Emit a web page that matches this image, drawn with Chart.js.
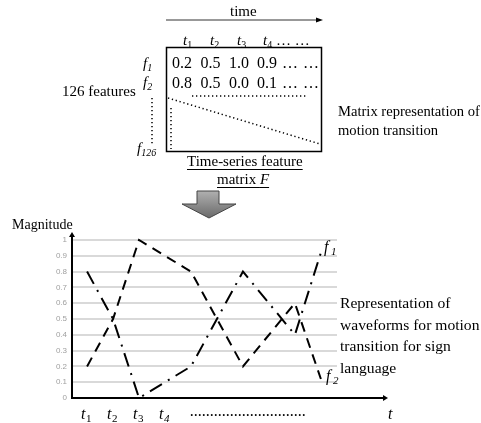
<!DOCTYPE html>
<html>
<head>
<meta charset="utf-8">
<script src="https://cdn.jsdelivr.net/npm/chart.js@4.4.0/dist/chart.umd.min.js"></script>
<style>
  html, body { margin: 0; padding: 0; background: #fff; }
  #page { position: relative; width: 481px; height: 423px; overflow: hidden;
          font-family: "Liberation Serif", "Times New Roman", serif; color: #000; }
  #page canvas, #page svg { position: absolute; left: 0; top: 0; }
  .t { position: absolute; white-space: nowrap; line-height: 18px; font-size: 15px; }
  .t i { font-style: italic; }
  .t sub { font-size: 10px; vertical-align: -3px; line-height: 0; }
  .u { text-decoration: underline; text-underline-offset: 3px; }
</style>
</head>
<body>
<div id="page">
  <canvas id="wave_canvas" width="481" height="423"></canvas>
  <svg width="481" height="423">
    <defs>
      <linearGradient id="arrowFill" x1="0" y1="0" x2="0" y2="1">
        <stop offset="0" stop-color="#b0b0b0"/>
        <stop offset="1" stop-color="#6a6a6a"/>
      </linearGradient>
    </defs>
    <!-- time arrow -->
    <line x1="166" y1="20" x2="318" y2="20" stroke="#333" stroke-width="1"/>
    <polygon points="316,17.5 323,20 316,22.5" fill="#000"/>
    <!-- matrix box -->
    <rect x="166.5" y="47.5" width="155" height="104" fill="none" stroke="#000" stroke-width="1.5"/>
    <g stroke="#000" stroke-width="1.5" stroke-dasharray="1.3 2.7" fill="none">
      <line x1="152" y1="98" x2="152" y2="146"/>
      <line x1="192" y1="96" x2="306" y2="96"/>
      <line x1="168" y1="98" x2="320" y2="144"/>
      <line x1="171" y1="108" x2="171" y2="149"/>
    </g>
    <!-- block arrow -->
    <polygon points="197,191 219,191 219,204 236,204 209,218 182,204 197,204"
             fill="url(#arrowFill)" stroke="#444" stroke-width="1"/>
  </svg>

  <div class="t" style="left:230px; top:2px;">time</div>
  <div class="t" style="left:183px; top:31px;"><i>t</i><sub>1</sub></div>
  <div class="t" style="left:210px; top:31px;"><i>t</i><sub>2</sub></div>
  <div class="t" style="left:237px; top:31px;"><i>t</i><sub>3</sub></div>
  <div class="t" style="left:263px; top:31px;"><i>t</i><sub>4</sub></div>
  <div class="t" style="left:276px; top:31px;">… …</div>

  <div class="t" style="left:143px; top:54px;"><i>f</i><sub><i>1</i></sub></div>
  <div class="t" style="left:143px; top:73px;"><i>f</i><sub><i>2</i></sub></div>
  <div class="t" style="left:137px; top:139px;"><i>f</i><sub><i>126</i></sub></div>
  <div class="t" style="left:62px; top:82px;">126 features</div>

  <div id="row1"></div>
  <div id="row2"></div>

  <div class="t u" style="left:187px; top:152px;">Time-series feature</div>
  <div class="t u" style="left:217px; top:170px;">matrix <i>F</i></div>

  <div class="t" style="left:338px; top:102px; font-size:14.6px;">Matrix representation of</div>
  <div class="t" style="left:338px; top:121px; font-size:14.6px;">motion transition</div>

  <div class="t" style="left:12px; top:216px; font-size:14px;">Magnitude</div>
  <div class="t" style="left:340px; top:292px; font-size:15.6px; line-height:21.7px;">Representation of<br>waveforms for motion<br>transition for sign<br>language</div>
</div>

<script>
// matrix cells shown in the top table
const matrixRow1 = ["0.2", "0.5", "1.0", "0.9", "…", "…"];
const matrixRow2 = ["0.8", "0.5", "0.0", "0.1", "…", "…"];

// waveform chart
const timeSteps = [1, 2, 3, 5, 7, 9, 10];
const dashedValues = [0.2, 0.5, 1.0, 0.8, 0.2, 0.6, 0.12];   // ends at f2
const dashDotValues = [0.8, 0.5, 0.0, 0.2, 0.8, 0.4, 0.92];  // ends at f1
const tickPositions = [1, 2, 3, 4];
const tickSubs = ["1", "2", "3", "4"];
const yTicks = [0, 0.1, 0.2, 0.3, 0.4, 0.5, 0.6, 0.7, 0.8, 0.9, 1];

const cellLefts = [172, 200.5, 229, 257, 282, 303];

function fill_row(id, cells, top) {
  var row = document.getElementById(id);
  cells.forEach((c, i) => {
    var d = document.createElement("div");
    d.className = "t";
    d.style.left = cellLefts[i] + "px";
    d.style.top = top + "px";
    d.style.fontSize = "16px";
    d.textContent = c;
    row.appendChild(d);
  });
}
fill_row("row1", matrixRow1, 54);
fill_row("row2", matrixRow2, 73.5);

function to_points(values) {
  return values.map((v, i) => ({ x: timeSteps[i], y: v }));
}

const axesPlugin = {
  id: "axes_and_labels",
  afterDraw(chart) {
    const ctx = chart.ctx;
    const a = chart.chartArea;
    const xs = chart.scales.x;
    const ys = chart.scales.y;
    ctx.save();
    ctx.strokeStyle = "#000";
    ctx.fillStyle = "#000";
    ctx.lineWidth = 2;

    // y axis with arrow
    ctx.beginPath();
    ctx.moveTo(a.left, a.bottom + 1);
    ctx.lineTo(a.left, a.top - 4);
    ctx.stroke();
    ctx.beginPath();
    ctx.moveTo(a.left - 3, a.top - 3);
    ctx.lineTo(a.left, a.top - 8);
    ctx.lineTo(a.left + 3, a.top - 3);
    ctx.fill();

    // x axis with arrow
    const xEnd = a.right + 51;
    ctx.beginPath();
    ctx.moveTo(a.left - 1, a.bottom);
    ctx.lineTo(xEnd - 4, a.bottom);
    ctx.stroke();
    ctx.beginPath();
    ctx.moveTo(xEnd - 5, a.bottom - 3);
    ctx.lineTo(xEnd, a.bottom);
    ctx.lineTo(xEnd - 5, a.bottom + 3);
    ctx.fill();

    // t1..t4 tick labels
    ctx.textBaseline = "alphabetic";
    ctx.textAlign = "left";
    tickPositions.forEach((v, i) => {
      const px = xs.getPixelForValue(v);
      ctx.font = 'italic 16px "Liberation Serif"';
      const tw = ctx.measureText("t").width;
      ctx.font = '11px "Liberation Serif"';
      const sw = ctx.measureText(tickSubs[i]).width;
      const start = px - (tw + sw) / 2 - 1;
      ctx.font = 'italic 16px "Liberation Serif"';
      ctx.fillText("t", start, a.bottom + 21);
      ctx.font = (i == 3 ? "italic " : "") + '11px "Liberation Serif"';
      ctx.fillText(tickSubs[i], start + tw + 0.5, a.bottom + 24);
    });
    ctx.font = '16px "Liberation Serif"';
    ctx.fillText(".".repeat(29), xs.getPixelForValue(4.95), a.bottom + 18);
    ctx.font = 'italic 16px "Liberation Serif"';
    ctx.fillText("t", xEnd, a.bottom + 21);

    // series end labels
    const lastX = xs.getPixelForValue(timeSteps[timeSteps.length - 1]);
    ctx.font = 'italic 16px "Liberation Serif"';
    ctx.fillText("f", lastX + 3, ys.getPixelForValue(0.92) - 1);
    ctx.font = 'italic 11px "Liberation Serif"';
    ctx.fillText("1", lastX + 10, ys.getPixelForValue(0.92) + 2);
    ctx.font = 'italic 16px "Liberation Serif"';
    ctx.fillText("f", lastX + 5, ys.getPixelForValue(0.12) + 2);
    ctx.font = 'italic 11px "Liberation Serif"';
    ctx.fillText("2", lastX + 12, ys.getPixelForValue(0.12) + 5);
    ctx.restore();
  }
};

new Chart(document.getElementById("wave_canvas").getContext("2d"), {
  type: "line",
  data: {
    datasets: [
      {
        label: "f2",
        data: to_points(dashedValues),
        borderColor: "#000",
        borderWidth: 2,
        borderDash: [10, 7],
        pointRadius: 0,
        tension: 0,
        fill: false,
        clip: false,
      },
      {
        label: "f1",
        data: to_points(dashDotValues),
        borderColor: "#000",
        borderWidth: 2,
        borderDash: [14, 7, 2, 7],
        pointRadius: 0,
        tension: 0,
        fill: false,
        clip: false,
      },
    ],
  },
  options: {
    responsive: false,
    devicePixelRatio: 1,
    animation: false,
    layout: { padding: { left: 0, top: 240, right: 144, bottom: 25 } },
    plugins: { legend: { display: false }, tooltip: { enabled: false } },
    scales: {
      x: {
        type: "linear",
        min: 0.42,
        max: 10.62,
        grid: { display: false },
        border: { display: false },
        ticks: { display: false },
        afterFit: (s) => { s.height = 0; },
      },
      y: {
        min: 0,
        max: 1,
        afterBuildTicks: (s) => { s.ticks = yTicks.map((v) => ({ value: v })); },
        grid: { color: "#d9d9d9", lineWidth: 2, drawTicks: false },
        border: { display: false },
        ticks: {
          padding: 5,
          color: "#a0a0a0",
          font: { family: "Liberation Sans", size: 8 },
          callback: (v) => String(v),
        },
        afterFit: (s) => { s.width = 72; },
      },
    },
  },
  plugins: [axesPlugin],
});
</script>
</body>
</html>
